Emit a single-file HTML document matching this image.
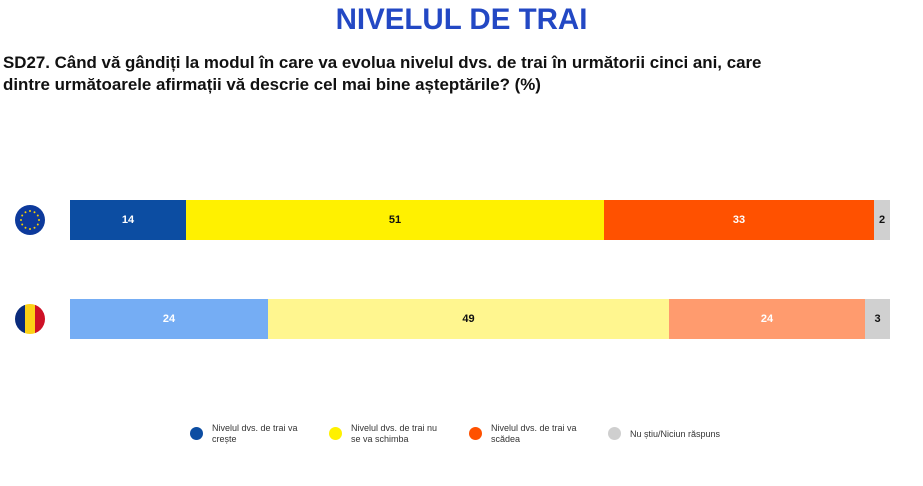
<!DOCTYPE html><html><head><style>
body{margin:0;width:923px;height:486px;background:#fff;font-family:"Liberation Sans",sans-serif;position:relative;overflow:hidden}
.a{position:absolute}
.t{left:0;width:923px;text-align:center;top:3px;font-size:29.5px;font-weight:bold;color:#2348c4}
.q{left:3px;top:52px;font-size:16.9px;font-weight:bold;color:#111;line-height:22px}
.s{position:absolute;display:flex;align-items:center;justify-content:center;font-size:11px;font-weight:bold;height:40px}
.l{font-size:9px;color:#333;line-height:11px}
.d{width:13px;height:13px;border-radius:50%}
</style></head><body>
<div class="a t">NIVELUL DE TRAI</div>
<div class="a q">SD27. Când vă gândiți la modul în care va evolua nivelul dvs. de trai în următorii cinci ani, care<br>dintre următoarele afirmații vă descrie cel mai bine așteptările? (%)</div>
<svg class="a" style="left:15px;top:205px" width="30" height="30"><circle cx="15" cy="15" r="15" fill="#0d3a9c"/><g fill="#f5d000"><circle cx="15" cy="6" r="1"/><circle cx="15" cy="24" r="1"/><circle cx="6" cy="15" r="1"/><circle cx="24" cy="15" r="1"/><circle cx="19.5" cy="7.2" r="1"/><circle cx="10.5" cy="7.2" r="1"/><circle cx="19.5" cy="22.8" r="1"/><circle cx="10.5" cy="22.8" r="1"/><circle cx="22.8" cy="10.5" r="1"/><circle cx="7.2" cy="10.5" r="1"/><circle cx="22.8" cy="19.5" r="1"/><circle cx="7.2" cy="19.5" r="1"/></g></svg>
<div class="a" style="left:15px;top:304px;width:30px;height:30px;border-radius:50%;overflow:hidden;display:flex"><div style="flex:1;background:#0a2b7c"></div><div style="flex:1;background:#fcd116"></div><div style="flex:1;background:#ce1126"></div></div>
<div class="s" style="left:70px;top:200px;width:116px;background:#0c4da2;color:#fff">14</div>
<div class="s" style="left:186px;top:200px;width:418px;background:#fff100;color:#111">51</div>
<div class="s" style="left:604px;top:200px;width:270px;background:#ff5100;color:#fff">33</div>
<div class="s" style="left:874px;top:200px;width:16px;background:#d0d0d0;color:#111">2</div>
<div class="s" style="left:70px;top:299px;width:198px;background:#75adf4;color:#fff">24</div>
<div class="s" style="left:268px;top:299px;width:401px;background:#fff68f;color:#111">49</div>
<div class="s" style="left:669px;top:299px;width:196px;background:#ff9b6e;color:#fff">24</div>
<div class="s" style="left:865px;top:299px;width:25px;background:#d0d0d0;color:#111">3</div>
<div class="a d" style="left:190px;top:427px;background:#0c4da2"></div><div class="a l" style="left:212px;top:423px">Nivelul dvs. de trai va<br>crește</div>
<div class="a d" style="left:329px;top:427px;background:#fff100"></div><div class="a l" style="left:351px;top:423px">Nivelul dvs. de trai nu<br>se va schimba</div>
<div class="a d" style="left:469px;top:427px;background:#ff5100"></div><div class="a l" style="left:491px;top:423px">Nivelul dvs. de trai va<br>scădea</div>
<div class="a d" style="left:608px;top:427px;background:#cfcfcf"></div><div class="a l" style="left:630px;top:429px">Nu știu/Niciun răspuns</div>
</body></html>
